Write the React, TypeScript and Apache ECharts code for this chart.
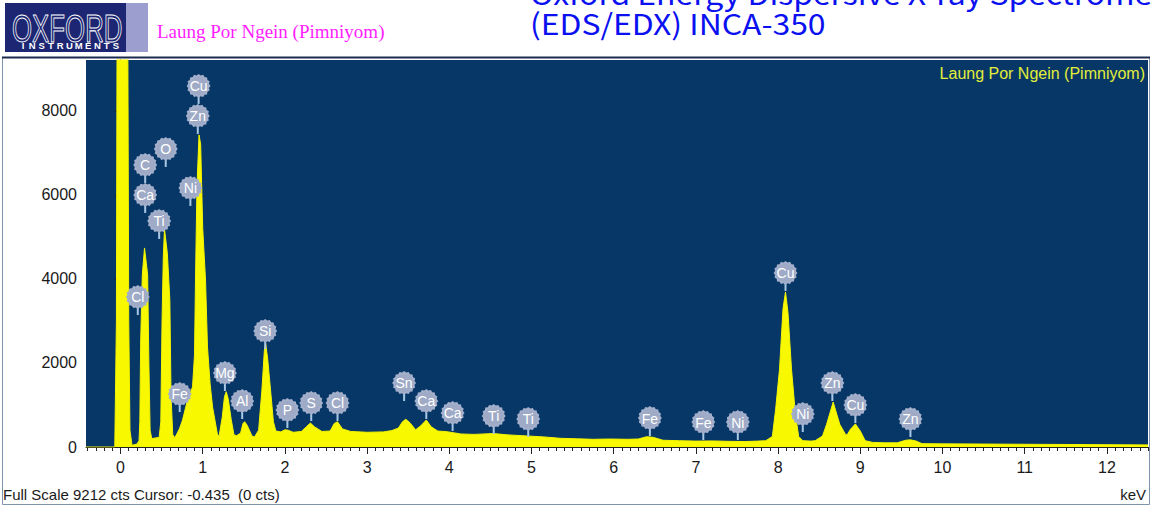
import React, { useEffect, useRef } from "react";
import * as echarts from "echarts";

// Spectrum: energy (keV) and counts
const energyKeV = [
  -0.42, -0.07, -0.05, -0.04, 0.085, 0.1, 0.115, 0.14, 0.2, 0.225, 0.235, 0.245, 0.265, 0.292, 0.33, 0.345,
  0.36, 0.38, 0.44, 0.47, 0.49, 0.505, 0.52, 0.535, 0.57, 0.6, 0.615, 0.635, 0.66, 0.69, 0.72, 0.754,
  0.815, 0.876, 0.9, 0.912, 0.93, 0.955, 0.975, 1.0, 1.034, 1.058, 1.09, 1.12, 1.18, 1.2, 1.237, 1.265,
  1.286, 1.31, 1.347, 1.38, 1.41, 1.46, 1.49, 1.51, 1.54, 1.6, 1.63, 1.68, 1.72, 1.75, 1.765, 1.79,
  1.825, 1.86, 1.89, 1.95, 2.0, 2.04, 2.1, 2.2, 2.26, 2.31, 2.36, 2.45, 2.55, 2.6, 2.64, 2.7,
  2.8, 3.0, 3.2, 3.3, 3.38, 3.43, 3.47, 3.52, 3.59, 3.65, 3.72, 3.78, 3.86, 3.97, 4.05, 4.14,
  4.3, 4.54, 4.7, 4.95, 5.15, 5.35, 5.55, 5.75, 5.95, 6.17, 6.3, 6.4, 6.48, 6.6, 6.8, 7.0,
  7.2, 7.4, 7.6, 7.75, 7.85, 7.93, 7.97, 8.017, 8.06, 8.09, 8.12, 8.163, 8.21, 8.25, 8.3, 8.4,
  8.45, 8.54, 8.59, 8.67, 8.75, 8.82, 8.84, 8.88, 8.94, 9.0, 9.06, 9.15, 9.3, 9.45, 9.55, 9.61,
  9.68, 9.75, 10.0, 10.5, 11.0, 11.5, 12.0, 12.5,
];
const countsCts = [
  0, 0, 3000, 12000, 12000, 3000, 400, 40, 70, 150, 600, 2500, 4100, 4738, 4100, 2000,
  400, 200, 220, 230, 600, 3000, 4500, 5190, 4600, 3500, 1200, 300, 220, 330, 450, 640,
  1120, 1430, 2200, 3976, 6200, 7430, 7200, 5200, 3976, 2380, 1500, 950, 290, 270, 700, 1200,
  1317, 1150, 650, 290, 270, 330, 560, 602, 520, 260, 240, 400, 1357, 2300, 2468, 2100,
  1357, 600, 380, 360, 410, 400, 350, 370, 480, 570, 480, 370, 380, 560, 600, 430,
  370, 350, 360, 390, 450, 600, 660, 580, 410, 500, 643, 480, 380, 365, 340, 310,
  300, 320, 290, 262, 240, 207, 195, 183, 190, 183, 190, 245, 230, 160, 150, 140,
  145, 135, 130, 140, 150, 250, 900, 1850, 3300, 3690, 3200, 1850, 800, 250, 150, 140,
  150, 260, 540, 1070, 540, 300, 290, 420, 550, 380, 150, 110, 100, 100, 160, 170,
  140, 80, 75, 70, 65, 60, 55, 50,
];

// Element labels: name, energy (keV), label centre height (counts)
const peakNames = ["C", "Ca", "O", "Ti", "Cl", "Cu", "Zn", "Ni", "Fe", "Mg", "Al", "Si", "P", "S", "Cl", "Sn", "Ca", "Ca", "Ti", "Ti", "Fe", "Fe", "Ni", "Cu", "Ni", "Zn", "Cu", "Zn"];
const peakKeV = [0.30, 0.30, 0.55, 0.47, 0.21, 0.95, 0.94, 0.85, 0.72, 1.27, 1.48, 1.76, 2.03, 2.32, 2.64, 3.45, 3.72, 4.04, 4.54, 4.96, 6.44, 7.09, 7.51, 8.09, 8.30, 8.66, 8.94, 9.61];
const peakLabelCts = [6714, 6000, 7095, 5381, 3571, 8595, 7881, 6167, 1262, 1762, 1095, 2762, 881, 1048, 1048, 1524, 1095, 810, 738, 667, 690, 595, 595, 4143, 786, 1524, 1000, 667];

const xTickLabels = [0, 1, 2, 3, 4, 5, 6, 7, 8, 9, 10, 11, 12];
const yTickLabels = [0, 2000, 4000, 6000, 8000];
const X_MIN = -0.42;
const X_MAX = 12.5;
const FULL_SCALE = 9212;

const sampleName = "Laung Por Ngein (Pimniyom)";
const titleLine1 = "Oxford Energy Dispersive X-ray Spectrometer";
const titleLine2 = "(EDS/EDX) INCA-350";
const footerText = "Full Scale 9212 cts Cursor: -0.435  (0 cts)";

export default function App() {
  const ref = useRef<HTMLDivElement>(null);
  useEffect(() => {
    document.body.style.margin = "0";
    const chart = echarts.init(ref.current!, undefined, { renderer: "svg" });

    const minorX: number[] = [];
    for (let i = -4; i <= 125; i++) minorX.push(i / 10);
    const minorY: number[] = [];
    for (let v = 0; v <= 9200; v += 200) minorY.push(v);

    const spectrum = energyKeV.map((e, i) => [e, countsCts[i]]);
    const labels = peakKeV.map((e, i) => [e, peakLabelCts[i]]);

    const instr = "INSTRUMENTS".split("");
    const instrEls = instr.map((ch, i) => ({
      type: "text",
      x: 23 + i * 9.3,
      y: 45,
      style: { text: ch, fill: "#ffffff", fontSize: 9.5, fontWeight: "bold", fontFamily: "Liberation Sans", align: "center", verticalAlign: "middle" },
    }));

    const axisFont = { fontSize: 16, color: "#1a1a1a", fontFamily: "Liberation Sans" };

    chart.setOption({
      animation: false,
      backgroundColor: "#ffffff",
      grid: { left: 86, top: 60, right: 3, bottom: 59, show: true, backgroundColor: "#073766", borderWidth: 0 },
      xAxis: [
        {
          type: "value", min: X_MIN, max: X_MAX, position: "bottom",
          axisLine: { show: true, onZero: false, lineStyle: { color: "#222", width: 1 } },
          axisTick: { show: true, length: 7, customValues: xTickLabels, lineStyle: { color: "#222" } },
          axisLabel: { show: true, customValues: xTickLabels, margin: 12, ...axisFont },
          splitLine: { show: false },
        },
        {
          type: "value", min: X_MIN, max: X_MAX, position: "bottom",
          axisLine: { show: false, onZero: false },
          axisTick: { show: true, length: 4, customValues: minorX, lineStyle: { color: "#222" } },
          axisLabel: { show: false },
          splitLine: { show: false },
        },
      ],
      yAxis: [
        {
          type: "value", min: 0, max: FULL_SCALE, interval: 2000,
          axisLine: { show: true, lineStyle: { color: "#222", width: 1 } },
          axisTick: { show: true, length: 6, customValues: yTickLabels, lineStyle: { color: "#222" } },
          axisLabel: { show: true, customValues: yTickLabels, margin: 9, formatter: (v: number) => String(v), ...axisFont },
          splitLine: { show: false },
        },
        {
          type: "value", min: 0, max: FULL_SCALE, position: "left",
          axisLine: { show: false },
          axisTick: { show: true, length: 3, customValues: minorY, lineStyle: { color: "#222" } },
          axisLabel: { show: false },
          splitLine: { show: false },
        },
      ],
      series: [
        {
          type: "line",
          data: spectrum,
          showSymbol: false,
          symbol: "none",
          clip: true,
          lineStyle: { color: "#f4f400", width: 1 },
          areaStyle: { color: "#f8f800", opacity: 1 },
          z: 2,
        },
        {
          type: "custom",
          data: labels,
          encode: { x: 0, y: 1 },
          z: 5,
          renderItem: (params: any, api: any) => {
            const p = api.coord([api.value(0), api.value(1)]);
            const r = 12;
            const pts: number[][] = [];
            const n = 32;
            for (let i = 0; i < n; i++) {
              const a = (i / n) * Math.PI * 2;
              const rr = i % 2 === 0 ? r : r - 1.4;
              pts.push([p[0] + Math.cos(a) * rr, p[1] + Math.sin(a) * rr]);
            }
            return {
              type: "group",
              children: [
                { type: "line", shape: { x1: p[0], y1: p[1] + r - 2, x2: p[0], y2: p[1] + r + 6 }, style: { stroke: "#a9c8e6", lineWidth: 2 } },
                { type: "polygon", shape: { points: pts }, style: { fill: "#a3afcb" } },
                { type: "circle", shape: { cx: p[0], cy: p[1], r: r - 3 }, style: { fill: "#9eaac6" } },
                {
                  type: "text",
                  style: {
                    text: peakNames[params.dataIndex], x: p[0], y: p[1] + 0.5, align: "center", verticalAlign: "middle",
                    fill: "#ffffff", fontSize: 14, fontFamily: "Liberation Sans",
                  },
                },
              ],
            };
          },
        },
      ],
      graphic: [
        // panel frame
        { type: "rect", shape: { x: 2.5, y: 57.5, width: 1147, height: 447 }, style: { fill: "none", stroke: "#8093ad", lineWidth: 1 }, z: 0, silent: true },
        { type: "line", shape: { x1: 2, y1: 57.5, x2: 1150, y2: 57.5 }, style: { stroke: "#1b2b4f", lineWidth: 2 }, z: 1 },
        // logo
        { type: "rect", shape: { x: 5, y: 3, width: 121, height: 49 }, style: { fill: "#1d2672" } },
        { type: "rect", shape: { x: 126, y: 3, width: 22, height: 49 }, style: { fill: "#9c9ecf" } },
        {
          type: "text", x: 12, y: 10, scaleX: 0.68,
          style: { text: "OXFORD", fill: "rgba(0,0,0,0)", stroke: "#ffffff", lineWidth: 1, fontSize: 38, fontFamily: "Liberation Sans", align: "left", verticalAlign: "top" },
        },
        ...instrEls,
        // sample name (header)
        { type: "text", x: 157, y: 31, style: { text: sampleName, fill: "#ff1cff", fontSize: 19, fontFamily: "Liberation Serif", align: "left", verticalAlign: "middle" } },
        // blue title (first line cut by the top edge, as in the reference)
        { type: "text", x: 530, y: -7, scaleX: 1.1, style: { text: titleLine1, fill: "#0a10f0", fontSize: 29, fontFamily: "Noto Sans CJK JP", align: "left", verticalAlign: "middle" } },
        { type: "text", x: 530, y: 23, scaleX: 1.1, style: { text: titleLine2, fill: "#0a10f0", fontSize: 29, fontFamily: "Noto Sans CJK JP", align: "left", verticalAlign: "middle" } },
        // sample name in plot
        { type: "text", x: 1145, y: 73, z: 10, style: { text: sampleName, fill: "#e3ee3a", fontSize: 16, fontFamily: "Liberation Sans", align: "right", verticalAlign: "middle" } },
        // footer
        { type: "text", x: 3, y: 494, style: { text: footerText, fill: "#1a1a1a", fontSize: 15, fontFamily: "Liberation Sans", align: "left", verticalAlign: "middle" } },
        { type: "text", x: 1146, y: 494, style: { text: "keV", fill: "#1a1a1a", fontSize: 15, fontFamily: "Liberation Sans", align: "right", verticalAlign: "middle" } },
      ],
    });
    return () => chart.dispose();
  }, []);
  return <div ref={ref} style={{ width: 1151, height: 506 }} />;
}
